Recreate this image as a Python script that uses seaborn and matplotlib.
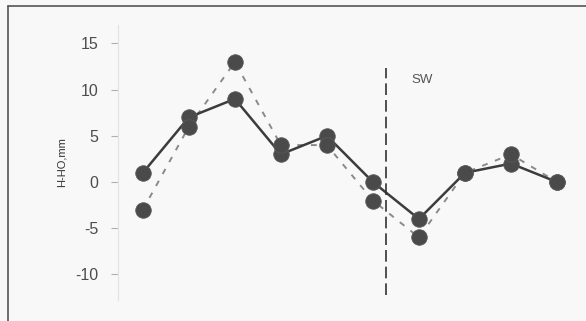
import matplotlib
matplotlib.use("Agg")
import matplotlib.pyplot as plt
import pandas as pd
import seaborn as sns
from matplotlib.lines import Line2D

# Measured vs. reference heights along the profile
stations = [1, 2, 3, 4, 5, 6, 7, 8, 9, 10]
h_solid = [1, 7, 9, 3, 5, 0, -4, 1, 2, 0]
h_dashed = [-3, 6, 13, 4, 4, -2, -6, 1, 3, 0]
y_ticks = [15, 10, 5, 0, -5, -10]

df = pd.DataFrame({
    "x": stations * 2,
    "h": h_solid + h_dashed,
    "series": ["a"] * len(stations) + ["b"] * len(stations),
})

sns.set_theme(style="white")
plt.rcParams["font.family"] = ["Liberation Sans", "DejaVu Sans"]

fig = plt.figure(figsize=(5.86, 3.21), dpi=100)
fig.patch.set_facecolor("#f8f8f8")
ax = fig.add_axes([118 / 586, 21 / 321, 462 / 586, 275 / 321])
ax.set_facecolor("none")

# dashed series first so solid line sits on top
sns.lineplot(data=df[df.series == "b"], x="x", y="h", ax=ax, color="#8a8a8a",
             linewidth=1.4, dashes=False, legend=False)
ax.lines[-1].set_dashes((3, 4))
sns.lineplot(data=df[df.series == "a"], x="x", y="h", ax=ax, color="#3c3c3c",
             linewidth=1.8, legend=False)
sns.scatterplot(data=df, x="x", y="h", ax=ax, color="#4a4a4a", s=125,
                edgecolor="#5a5a5a", linewidth=0.6, legend=False, zorder=5)

ax.axvline(6.28, ymin=0.018, ymax=0.844, color="#333333", linewidth=1.2,
           dashes=(7, 3))
ax.text(6.83, 11.0, "SW", fontsize=9.5, color="#555555", va="center", ha="left")

ax.set_xlim(0.46, 10.5)
ax.set_ylim(-12.77, 17.0)
ax.set_yticks(y_ticks)
ax.set_yticklabels([str(t) for t in y_ticks], fontsize=11.5, color="#4d4d4d")
ax.set_xticks([])
ax.tick_params(axis="y", left=True, length=5, width=0.8, color="#b0b0b0", pad=9)
ax.set_xlabel("")
ax.set_ylabel("H-HO,mm", fontsize=8, color="#333333", labelpad=6)
for side in ["top", "right", "bottom"]:
    ax.spines[side].set_visible(False)
ax.spines["left"].set_color("#e2e2e2")
ax.spines["left"].set_linewidth(0.8)

# page frame lines
fig.add_artist(Line2D([8 / 586, 8 / 586], [0, 1 - 6 / 321], transform=fig.transFigure,
                      color="#555555", linewidth=1.2))
fig.add_artist(Line2D([8 / 586, 1], [1 - 6 / 321, 1 - 6 / 321], transform=fig.transFigure,
                      color="#555555", linewidth=1.2))

fig.savefig("out.png", dpi=100, facecolor=fig.get_facecolor())
